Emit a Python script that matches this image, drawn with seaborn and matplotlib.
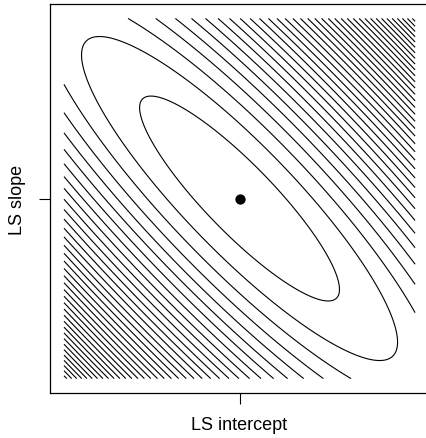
import numpy as np
import matplotlib
matplotlib.use("Agg")
import matplotlib.pyplot as plt
import seaborn as sns

# small regression data set; the contours are its residual sum of squares
x = np.array([1, 2, 3, 4, 5, 6, 7, 8, 9, 10])
y = np.array([3.5, 4.5, 6.5, 9.5, 11.0, 13.0, 15.5, 16.5, 18.5, 21.5])

# half-widths of the (intercept, slope) grid around the LS estimate
intercept_halfwidth = 2.4
slope_halfwidth = 0.387

# contour levels of the RSS surface
level_step = 6
level_max = 240

sns.set_theme(style="ticks")
plt.rcParams["font.family"] = ["Liberation Sans", "DejaVu Sans"]

slope_hat, intercept_hat = np.polyfit(x, y, 1)

a_grid = np.linspace(intercept_hat - intercept_halfwidth, intercept_hat + intercept_halfwidth, 401)
b_grid = np.linspace(slope_hat - slope_halfwidth, slope_hat + slope_halfwidth, 401)
A, B = np.meshgrid(a_grid, b_grid)
rss = ((y[None, None, :] - A[..., None] - B[..., None] * x[None, None, :]) ** 2).sum(axis=2)
levels = np.arange(level_step, level_max, level_step)

fig = plt.figure(figsize=(4.27, 4.39), dpi=100)
ax = fig.add_axes([0.117, 0.1025, 0.888, 0.886])

ax.contour(A, B, rss, levels=levels, colors="black", linewidths=0.8)
sns.scatterplot(x=[intercept_hat], y=[slope_hat], color="black", s=55,
                edgecolor=None, linewidth=0, ax=ax, zorder=3)

# R style 4% padding around the grid
ax.set_xlim(intercept_hat - 1.08 * intercept_halfwidth, intercept_hat + 1.08 * intercept_halfwidth)
ax.set_ylim(slope_hat - 1.08 * slope_halfwidth, slope_hat + 1.08 * slope_halfwidth)

ax.set_xticks([intercept_hat])
ax.set_yticks([slope_hat])
ax.set_xticklabels([])
ax.set_yticklabels([])
ax.tick_params(length=8, width=0.8, color="black", direction="out")
for s in ax.spines.values():
    s.set_visible(True)
    s.set_color("black")
    s.set_linewidth(0.9)

ax.set_xlabel("LS intercept", fontsize=13, color="black")
ax.set_ylabel("LS slope", fontsize=13, color="black")
ax.xaxis.set_label_coords(0.5, -0.06)
ax.yaxis.set_label_coords(-0.062, 0.5)

fig.savefig("out.png", dpi=100)
